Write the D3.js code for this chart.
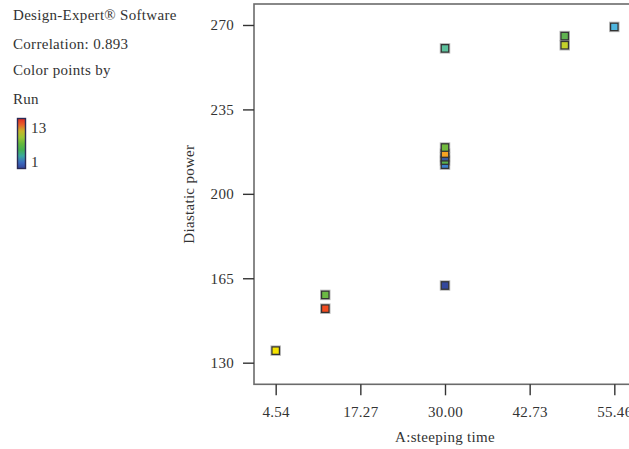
<!DOCTYPE html>
<html>
<head>
<meta charset="utf-8">
<script src="https://cdn.jsdelivr.net/npm/d3@7"></script>
<style>
  html, body { margin: 0; padding: 0; background: #fff; }
  svg { display: block; font-family: "Liberation Serif", "DejaVu Serif", serif; }
  svg text { letter-spacing: 0.3px; }
</style>
</head>
<body>
<svg id="chart" width="629" height="449"></svg>
<script>
// Design-Expert style scatter: Diastatic power vs. steeping time, coloured by run order
const runs        = [1, 3, 6, 2, 12, 9, 8, 13, 11, 5, 7, 10, 4];
const steepTime   = [30, 30, 30, 30, 30, 30, 12, 12, 4.54, 30, 48, 48, 55.46];
const diastatic   = [162, 212.1, 213.8, 215.2, 216.7, 219.2, 158.1, 152.4, 135, 260.3, 265.4, 261.6, 269.2];

const xTicks = [4.54, 17.27, 30.00, 42.73, 55.46];
const yTicks = [130, 165, 200, 235, 270];

const infoLines = ["Design-Expert\u00AE Software", "Correlation: 0.893", "Color points by", "Run"];
const runRange  = [1, 13];

// colour for each run, 1 (blue) through 13 (red)
const runPalette = ["#34489c", "#3a5aa0", "#3d80cc", "#4fb6df", "#5cc19c", "#5ab34c", "#5fb24f",
                    "#6bb944", "#72bb3e", "#c3d12a", "#f6e400", "#f6a323", "#f24b1f"];

const FONT = 15;
const svg = d3.select("#chart");

const plot = { left: 254, top: 4, right: 636, bottom: 384.3 };

const x = d3.scaleLinear().domain([1.28, 58.72]).range([plot.left, plot.right]);
const y = d3.scaleLinear().domain([121.04, 278.7]).range([plot.bottom, plot.top]);
const colour = d3.scaleOrdinal().domain(d3.range(runRange[0], runRange[1] + 1)).range(runPalette);

// plot frame
svg.append("rect")
  .attr("x", plot.left).attr("y", plot.top)
  .attr("width", plot.right - plot.left).attr("height", plot.bottom - plot.top)
  .attr("fill", "none").attr("stroke", "#6b6b6b").attr("stroke-width", 1.6);

// x axis
const gx = svg.append("g")
  .attr("transform", `translate(0,${plot.bottom})`)
  .call(d3.axisBottom(x).tickValues(xTicks).tickFormat(d3.format(".2f")).tickSize(11).tickSizeOuter(0).tickPadding(11));
gx.select(".domain").remove();
gx.selectAll(".tick line").attr("stroke", "#333").attr("stroke-width", 1.4);
gx.selectAll(".tick text").attr("font-size", FONT).attr("fill", "#333").attr("font-family", "Liberation Serif, serif");

// y axis
const gy = svg.append("g")
  .attr("transform", `translate(${plot.left},0)`)
  .call(d3.axisLeft(y).tickValues(yTicks).tickFormat(d3.format("d")).tickSize(11).tickSizeOuter(0).tickPadding(9));
gy.select(".domain").remove();
gy.selectAll(".tick line").attr("stroke", "#333").attr("stroke-width", 1.4);
gy.selectAll(".tick text").attr("font-size", FONT).attr("fill", "#333").attr("font-family", "Liberation Serif, serif");

// axis titles
svg.append("text")
  .attr("x", x(30)).attr("y", 441.5)
  .attr("text-anchor", "middle").attr("font-size", FONT).attr("fill", "#333")
  .text("A:steeping time");

svg.append("text")
  .attr("transform", `translate(194,${(plot.top + plot.bottom) / 2}) rotate(-90)`)
  .attr("text-anchor", "middle").attr("font-size", FONT).attr("fill", "#333")
  .text("Diastatic power");

// points
const pts = runs.map((r, i) => ({ run: r, t: steepTime[i], p: diastatic[i] }));
const size = 7.5;
const pg = svg.append("g");
pg.selectAll("rect.halo").data(pts).join("rect")
  .attr("class", "halo")
  .attr("x", d => x(d.t) - size / 2 - 1).attr("y", d => y(d.p) - size / 2 - 1)
  .attr("width", size + 2).attr("height", size + 2)
  .attr("fill", "none").attr("stroke", "#bbb").attr("stroke-width", 1);
pts.forEach(d => {
  pg.append("rect")
    .attr("x", x(d.t) - size / 2).attr("y", y(d.p) - size / 2)
    .attr("width", size).attr("height", size)
    .attr("fill", colour(d.run)).attr("stroke", "#333").attr("stroke-width", 1.3);
});

// info block
svg.append("g").selectAll("text").data(infoLines).join("text")
  .attr("x", 13).attr("y", (d, i) => [19.5, 48.5, 75, 103.5][i])
  .attr("font-size", FONT).attr("fill", "#333")
  .text(d => d);

// run colour legend
const defs = svg.append("defs");
const grad = defs.append("linearGradient").attr("id", "runGrad")
  .attr("x1", 0).attr("y1", 1).attr("x2", 0).attr("y2", 0);
const legendStops = ["#34449a", "#3a6cc0", "#3aa8a0", "#44b050", "#66b83c", "#9cc634", "#c8b42a", "#e8602a", "#e02a22"];
legendStops.forEach((c, i) => grad.append("stop").attr("offset", i / (legendStops.length - 1)).attr("stop-color", c));

const legendY = d3.scaleLinear().domain(runRange).range([168.5, 118.5]);
svg.append("rect")
  .attr("x", 17.5).attr("y", legendY(runRange[1]))
  .attr("width", 8).attr("height", legendY(runRange[0]) - legendY(runRange[1]))
  .attr("fill", "url(#runGrad)").attr("stroke", "#2a2a55").attr("stroke-width", 1.4);

svg.append("g").selectAll("text").data(runRange).join("text")
  .attr("x", 31).attr("y", d => legendY(d) + (d === runRange[1] ? 14 : -2))
  .attr("font-size", FONT).attr("fill", "#333")
  .text(d => d);
</script>
</body>
</html>
